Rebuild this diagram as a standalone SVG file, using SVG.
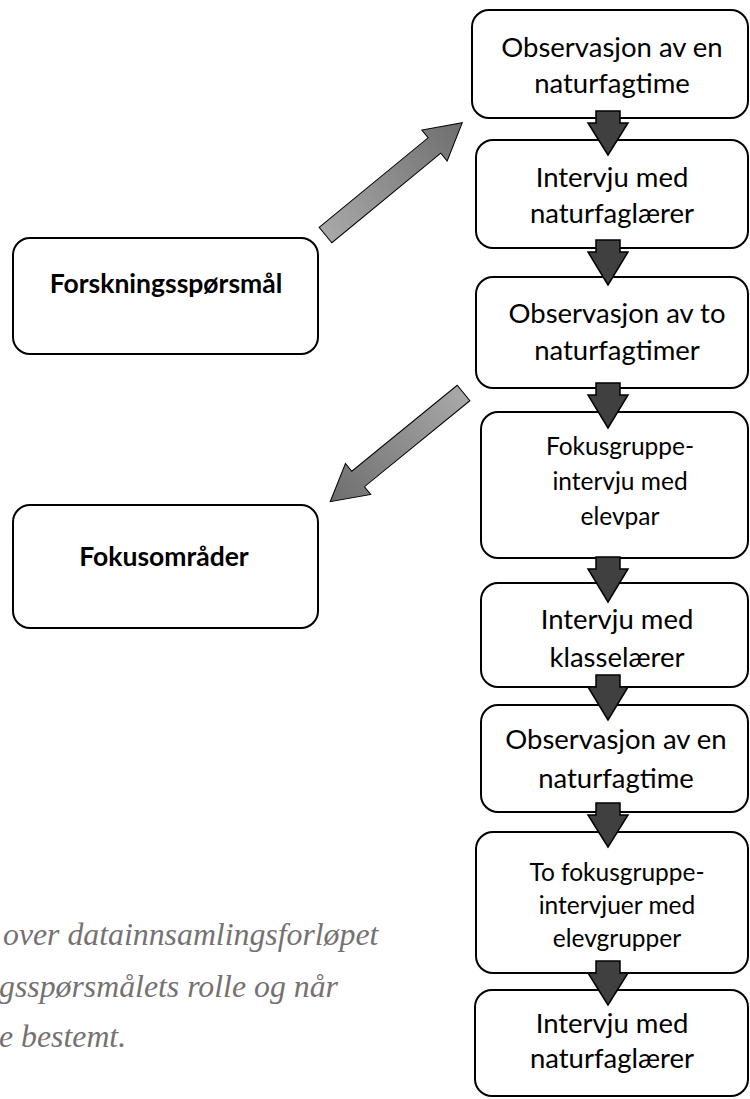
<svg xmlns="http://www.w3.org/2000/svg" width="750" height="1099" viewBox="0 0 750 1099">
<style>
.box{fill:#fff;stroke:#000;stroke-width:2}
.t{font-family:Lato,"Open Sans","DejaVu Sans",sans-serif;font-size:27.5px;fill:#000;text-anchor:middle}
.ts{font-size:24.5px}
.tb{font-family:Lato,"Open Sans","DejaVu Sans",sans-serif;font-size:26.5px;font-weight:bold;fill:#000;text-anchor:middle}
.dn{fill:#404040;stroke:#000;stroke-width:1.5;stroke-linejoin:miter}
.diag{stroke:#000;stroke-width:1}
.cap{font-family:"Liberation Serif","Times New Roman",serif;font-style:italic;font-size:31.8px;fill:#767171}
</style>
<defs>
<linearGradient id="g1" gradientUnits="userSpaceOnUse" x1="0" y1="0" x2="177" y2="0">
<stop offset="0" stop-color="#a8a8a8"/><stop offset="1" stop-color="#6e6e6e"/>
</linearGradient>
<linearGradient id="g2" gradientUnits="userSpaceOnUse" x1="0" y1="0" x2="172" y2="0">
<stop offset="0" stop-color="#a8a8a8"/><stop offset="1" stop-color="#6e6e6e"/>
</linearGradient>
</defs>
<g id="n-forsk"><rect class="box" x="13" y="238" width="305" height="116" rx="17"/><text class="tb" x="166" y="293">Forskningsspørsmål</text></g>
<g id="n-fokus"><rect class="box" x="13" y="505" width="305" height="123" rx="17"/><text class="tb" x="164" y="566">Fokusområder</text></g>
<g id="n1"><rect class="box" x="472" y="10" width="276" height="108" rx="17"/><text class="t" x="612" y="57">Observasjon av en</text><text class="t" x="612" y="93">naturfagtime</text></g>
<g id="n2"><rect class="box" x="476" y="140" width="272" height="108" rx="17"/><text class="t" x="612" y="187">Intervju med</text><text class="t" x="612" y="223">naturfaglærer</text></g>
<g id="n3"><rect class="box" x="476" y="277" width="272" height="111" rx="17"/><text class="t" x="617" y="323">Observasjon av to</text><text class="t" x="617" y="360">naturfagtimer</text></g>
<g id="n4"><rect class="box" x="481" y="412" width="267" height="146" rx="17"/><text class="t ts" x="620" y="455">Fokusgruppe-</text><text class="t ts" x="620" y="490">intervju med</text><text class="t ts" x="620" y="525">elevpar</text></g>
<g id="n5"><rect class="box" x="481" y="583" width="267" height="104" rx="17"/><text class="t" x="617" y="629">Intervju med</text><text class="t" x="617" y="667">klasselærer</text></g>
<g id="n6"><rect class="box" x="481" y="705" width="267" height="107" rx="17"/><text class="t" x="616" y="749">Observasjon av en</text><text class="t" x="616" y="788">naturfagtime</text></g>
<g id="n7"><rect class="box" x="476" y="832" width="272" height="141" rx="17"/><text class="t ts" x="617" y="881">To fokusgruppe-</text><text class="t ts" x="617" y="914">intervjuer med</text><text class="t ts" x="617" y="947">elevgrupper</text></g>
<g id="n8"><rect class="box" x="475" y="990" width="273" height="106" rx="17"/><text class="t" x="612" y="1033">Intervju med</text><text class="t" x="612" y="1068">naturfaglærer</text></g>
<g id="connectors">
<polygon class="diag" fill="url(#g1)" transform="translate(325.5,235) rotate(-39.4)" points="0,-10 141,-10 141,-20 177,0 141,20 141,10 0,10"/>
<polygon class="diag" fill="url(#g2)" transform="translate(463.5,393) rotate(140.8)" points="0,-10 136,-10 136,-20 172,0 136,20 136,10 0,10"/>
<polygon class="dn" points="596,111 620,111 620,123 628,123 608,155 588,123 596,123"/>
<polygon class="dn" points="596,240 620,240 620,252 628,252 608,285 588,252 596,252"/>
<polygon class="dn" points="596,383 620,383 620,395 628,395 608,428 588,395 596,395"/>
<polygon class="dn" points="596,557 620,557 620,569 628,569 608,602 588,569 596,569"/>
<polygon class="dn" points="596,675 620,675 620,687 628,687 608,720 588,687 596,687"/>
<polygon class="dn" points="596,803 620,803 620,815 628,815 608,847 588,815 596,815"/>
<polygon class="dn" points="596,961 620,961 620,973 628,973 608,1005 588,973 596,973"/>
</g>
<text class="cap" x="3" y="945">over datainnsamlingsforløpet</text>
<text class="cap" x="-1" y="997">gsspørsmålets rolle og når</text>
<text class="cap" x="-1" y="1047">e bestemt.</text>
</svg>
